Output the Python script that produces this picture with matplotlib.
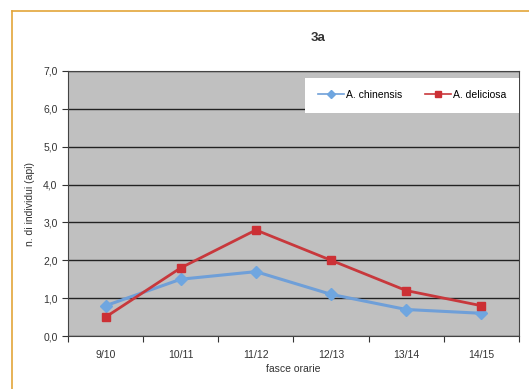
import matplotlib
matplotlib.use("Agg")
import matplotlib.pyplot as plt
from matplotlib.lines import Line2D

categories = ["9/10", "10/11", "11/12", "12/13", "13/14", "14/15"]
chinensis = [0.8, 1.5, 1.7, 1.1, 0.7, 0.6]
deliciosa = [0.5, 1.8, 2.8, 2.0, 1.2, 0.8]
yticks = [0, 1, 2, 3, 4, 5, 6, 7]

plt.rcParams['font.family'] = ['Liberation Sans', 'DejaVu Sans']

fig = plt.figure(figsize=(5.29, 3.89), dpi=100)
W, H = 529, 389
ax = fig.add_axes([68 / W, 1 - 336 / H, (519 - 68) / W, (336 - 71) / H])
ax.set_facecolor('#c0c0c0')

x = list(range(len(categories)))
ax.plot(x, chinensis, color='#6f9fd8', lw=2.2, marker='D', ms=6, mfc='#6fa6e0', mec='#6fa6e0',
        label='A. chinensis', zorder=3)
ax.plot(x, deliciosa, color='#c8383c', lw=2.0, marker='s', ms=6, mfc='#cc3035', mec='#cc3035',
        label='A. deliciosa', zorder=3)

ax.set_xlim(-0.5, len(categories) - 0.5)
ax.set_ylim(0, 7)
ax.set_yticks(yticks)
ax.set_yticklabels([f"{v:.1f}".replace('.', ',') for v in yticks], fontsize=7.5, color='#333333')
ax.set_xticks(x)
ax.set_xticklabels(categories, fontsize=7.5, color='#333333')
ax.set_xticks([i - 0.5 for i in range(len(categories) + 1)], minor=True)
ax.tick_params(axis='x', which='major', length=0, pad=10)
ax.tick_params(axis='x', which='minor', length=4, width=0.8, direction='out', color='#333333')
ax.tick_params(axis='y', length=4, width=0.8, direction='out', color='#333333')
ax.yaxis.grid(True, color='#222222', lw=1.0)
ax.set_axisbelow(True)
for s in ax.spines.values():
    s.set_color('#444444')
    s.set_linewidth(0.8)

ax.set_xlabel('fasce orarie', fontsize=7.5, color='#333333', labelpad=3)
ax.set_ylabel('n. di individui (api)', fontsize=7.5, color='#333333', labelpad=6)
fig.text(318 / W, 1 - 38 / H, '3a', fontsize=9.5, fontweight='bold', ha='center', va='center',
         color='#333333')

leg = ax.legend(loc='upper right', bbox_to_anchor=(1.0, 0.975), borderaxespad=0, ncol=2,
                fontsize=7.5, frameon=True, fancybox=False, framealpha=1, edgecolor='white',
                handlelength=2.5, columnspacing=2.2, borderpad=1.2, handletextpad=0.2)
leg.get_frame().set_linewidth(0)
for h in leg.legend_handles:
    h.set_markersize(4)
    h.set_linewidth(1.2)

# orange frame
fig.add_artist(Line2D([12 / W, 12 / W], [0, 1 - 11 / H], color='#e3a53a', lw=1.2,
                      transform=fig.transFigure))
fig.add_artist(Line2D([12 / W, 1], [1 - 11 / H, 1 - 11 / H], color='#e3a53a', lw=1.2,
                      transform=fig.transFigure))

fig.savefig('out.png', dpi=100, facecolor='white')
